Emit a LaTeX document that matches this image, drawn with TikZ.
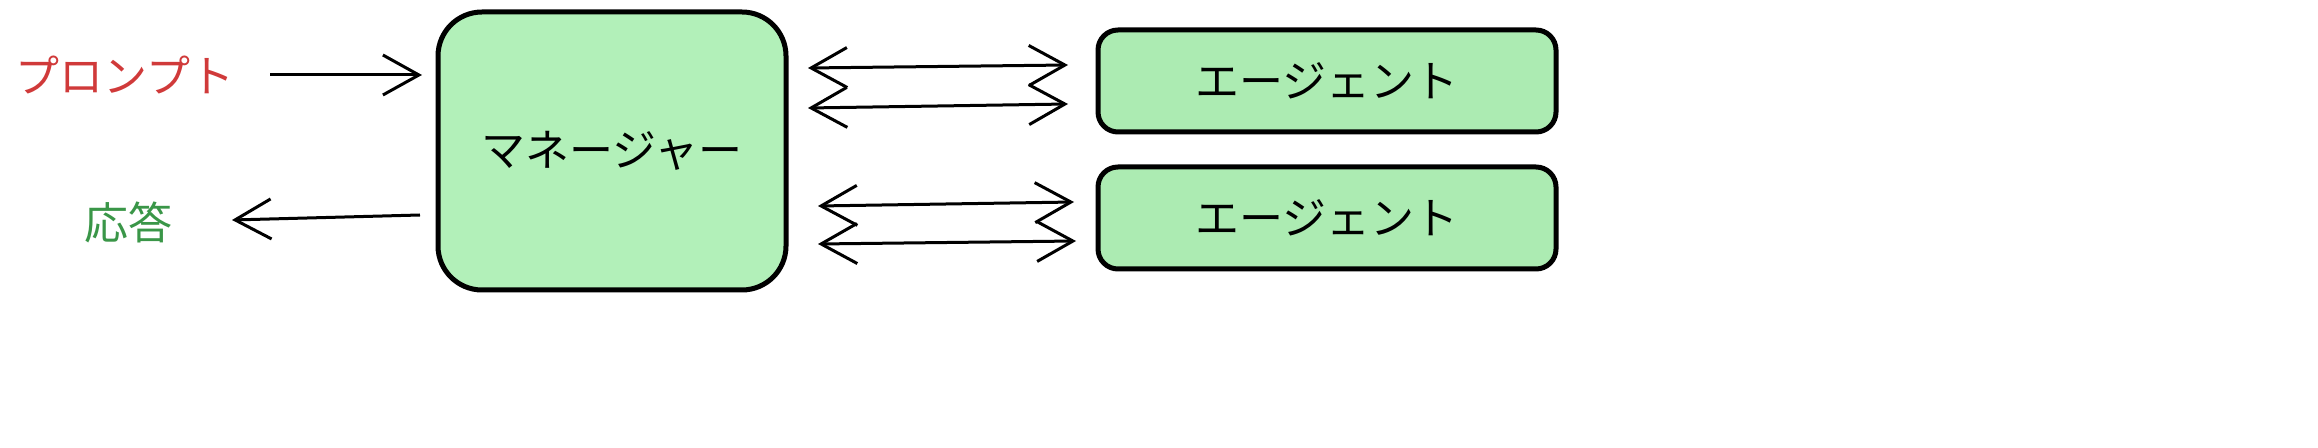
\documentclass[tikz,border=0pt]{standalone}
\usepackage{fontspec}
\usepackage{tikz}
\usetikzlibrary{arrows.meta}
\newfontfamily\cjk{Noto Sans CJK JP}
\definecolor{rr}{RGB}{208, 58, 58}
\definecolor{gg}{RGB}{58, 150, 72}
\definecolor{mm}{RGB}{178, 240, 185}
\definecolor{ag}{RGB}{172, 235, 178}
\begin{document}
\begin{tikzpicture}[x=0.5pt, y=-0.5pt,
  every node/.style={font=\cjk\fontsize{22pt}{26pt}\selectfont},
  box/.style={draw=black, line width=2.5pt, rounded corners=22pt, inner sep=0pt},
  arr/.style={line width=1.5pt, -{Straight Barb[length=18pt, width=20pt, line width=1.5pt]}},
  darr/.style={line width=1.5pt, {Straight Barb[length=18pt, width=20pt, line width=1.5pt]}-{Straight Barb[length=18pt, width=20pt, line width=1.5pt]}}]
\useasboundingbox (0,0) rectangle (2318,448);
\node (prompt) [text=rr] at (125, 75) {プロンプト};
\node (answer) [text=gg] at (128, 222) {応答};
\node (mgr) [box, fill=mm, minimum width=174pt, minimum height=139pt] at (612, 151) {マネージャー};
\node (ag1) [box, fill=ag, minimum width=229pt, minimum height=51pt, rounded corners=10pt] at (1327, 81) {エージェント};
\node (ag2) [box, fill=ag, minimum width=229pt, minimum height=51pt, rounded corners=10pt] at (1327, 218) {エージェント};
\coordinate (p1) at (270, 75);
\coordinate (p2) at (422, 75);
\coordinate (a1) at (420, 215);
\coordinate (a2) at (232, 220);
\draw [arr] (p1) to (p2);
\draw [arr] (a1) to (a2);
\coordinate (m1) at (808, 68);
\coordinate (e1) at (1068, 65);
\coordinate (m2) at (808, 108);
\coordinate (e2) at (1068, 104);
\coordinate (m3) at (818, 206);
\coordinate (e3) at (1074, 202);
\coordinate (m4) at (818, 244);
\coordinate (e4) at (1076, 241);
\draw [darr] (m1) to (e1);
\draw [darr] (m2) to (e2);
\draw [darr] (m3) to (e3);
\draw [darr] (m4) to (e4);
\end{tikzpicture}
\end{document}
